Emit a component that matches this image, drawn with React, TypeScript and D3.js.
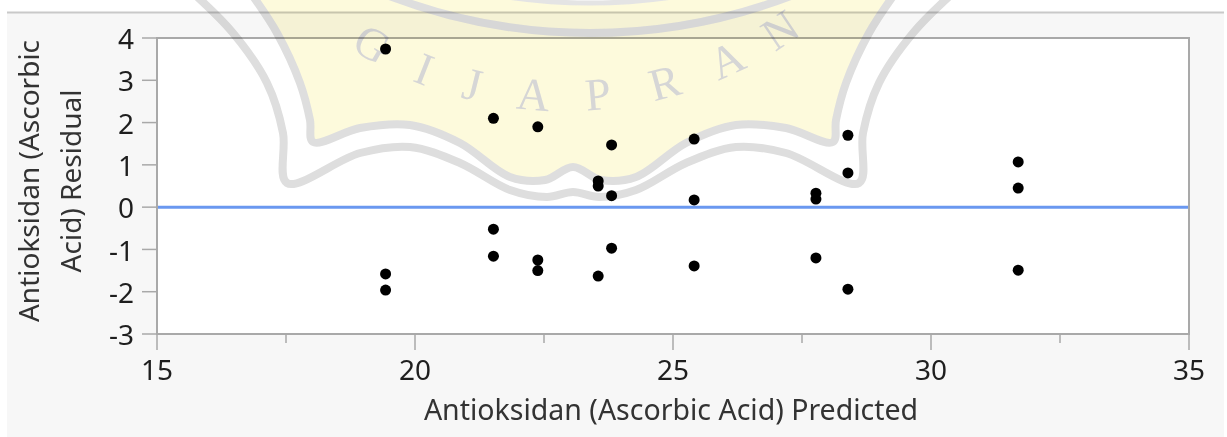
import { useEffect, useRef } from 'react';
import * as d3 from 'd3';

// residual by predicted plot (JMP style)
const predicted = [
  19.43, 19.43, 19.43,
  21.52, 21.52, 21.52,
  22.38, 22.38, 22.38,
  23.55, 23.55, 23.55,
  23.81, 23.81, 23.81,
  25.41, 25.41, 25.41,
  27.77, 27.77, 27.77,
  28.39, 28.39, 28.39,
  31.69, 31.69, 31.69,
];
const residual = [
  3.74, -1.58, -1.96,
  2.10, -0.52, -1.16,
  1.90, -1.25, -1.50,
  0.62, 0.50, -1.63,
  1.47, 0.27, -0.97,
  1.61, 0.17, -1.39,
  0.33, 0.19, -1.20,
  1.70, 0.81, -1.94,
  1.07, 0.45, -1.49,
];
const xTicks = [15, 20, 25, 30, 35];
const xMinorTicks = [17.5, 22.5, 27.5, 32.5];
const yTicks = [-3, -2, -1, 0, 1, 2, 3, 4];
const xTitle = 'Antioksidan (Ascorbic Acid) Predicted';
const yTitleLines = ['Antioksidan (Ascorbic', 'Acid) Residual'];

// watermark (background logo of the source document)
const wmLetters = ['G', 'I', 'J', 'A', 'P', 'R', 'A', 'N'];
const wmLetterAngles = [-30, -21.4, -13.9, -4.7, 4.9, 15, 24.8, 33.9];
const wmCx = 573;
const wmInner = [[250, -8], [277, 33], [300, 83], [310, 120], [313, 142], [360, 128], [410, 125], [460, 143], [510, 177], [545, 180], [573, 167]];
const wmOuter = [[192, -8], [233, 33], [267, 83], [283, 133], [287, 183], [360, 153], [410, 147], [460, 163], [510, 190], [547, 197], [573, 192]];

const W = 1227;
const H = 437;
const FONT = '"Noto Sans", "Open Sans", sans-serif';

const mirror = (pts) => {
  const right = pts.slice(0, -1).reverse().map(([x, y]) => [2 * wmCx - x, y]);
  return pts.concat(right);
};

const App = () => {
  const ref = useRef(null);

  useEffect(() => {
    const svg = d3.select(ref.current);
    svg.selectAll('*').remove();

    const plot = { left: 157, right: 1189, top: 38, bottom: 334 };

    const x = d3.scaleLinear().domain([15, 35]).range([plot.left, plot.right]);
    const y = d3.scaleLinear().domain([-3, 4]).range([plot.bottom, plot.top]);

    // panel background
    svg.append('rect').attr('width', W).attr('height', H).attr('fill', '#ffffff');
    svg.append('rect').attr('x', 7).attr('y', 12).attr('width', 1217).attr('height', H - 12).attr('fill', '#f7f7f7');
    svg.append('line').attr('x1', 7).attr('x2', 1224).attr('y1', 12.5).attr('y2', 12.5)
      .attr('stroke', '#c9c9c9').attr('stroke-width', 2);

    // plot area
    svg.append('rect')
      .attr('x', plot.left).attr('y', plot.top)
      .attr('width', plot.right - plot.left).attr('height', plot.bottom - plot.top)
      .attr('fill', '#ffffff').attr('stroke', '#a9a9a9').attr('stroke-width', 2);

    // y ticks
    const gy = svg.append('g');
    gy.selectAll('line').data(yTicks).join('line')
      .attr('x1', plot.left - 15).attr('x2', plot.left)
      .attr('y1', d => y(d)).attr('y2', d => y(d))
      .attr('stroke', '#a9a9a9').attr('stroke-width', 1.5);
    gy.selectAll('text').data(yTicks).join('text')
      .attr('x', plot.left - 23).attr('y', d => y(d) + 1)
      .attr('dy', '0.36em').attr('text-anchor', 'end')
      .style('font-family', FONT).style('font-size', '28px').attr('fill', '#1e1e1e')
      .text(d => d);

    // x ticks
    const gx = svg.append('g');
    gx.selectAll('line.major').data(xTicks).join('line').attr('class', 'major')
      .attr('x1', d => x(d)).attr('x2', d => x(d))
      .attr('y1', plot.bottom).attr('y2', plot.bottom + 16)
      .attr('stroke', '#a9a9a9').attr('stroke-width', 1.5);
    gx.selectAll('line.minor').data(xMinorTicks).join('line').attr('class', 'minor')
      .attr('x1', d => x(d)).attr('x2', d => x(d))
      .attr('y1', plot.bottom).attr('y2', plot.bottom + 9)
      .attr('stroke', '#a9a9a9').attr('stroke-width', 1.5);
    gx.selectAll('text').data(xTicks).join('text')
      .attr('x', d => x(d)).attr('y', 380)
      .attr('text-anchor', 'middle')
      .style('font-family', FONT).style('font-size', '28px').attr('fill', '#1e1e1e')
      .text(d => d);

    // titles
    svg.append('text')
      .attr('x', (plot.left + plot.right) / 2 - 2).attr('y', 420)
      .attr('text-anchor', 'middle')
      .style('font-family', FONT).style('font-size', '28.5px').attr('fill', '#333333')
      .text(xTitle);

    svg.append('g')
      .attr('transform', `translate(0, 181) rotate(-90)`)
      .selectAll('text').data(yTitleLines).join('text')
      .attr('x', 0).attr('y', (d, i) => 39 + i * 42)
      .attr('text-anchor', 'middle')
      .style('font-family', FONT).style('font-size', '28px').attr('fill', '#333333')
      .text(d => d);

    // zero line
    svg.append('line')
      .attr('x1', plot.left + 1).attr('x2', plot.right - 1)
      .attr('y1', y(0)).attr('y2', y(0))
      .attr('stroke', '#6a98f0').attr('stroke-width', 3);

    // points
    svg.append('g').selectAll('circle').data(predicted).join('circle')
      .attr('cx', d => x(d))
      .attr('cy', (d, i) => y(residual[i]))
      .attr('r', 5.5)
      .attr('fill', '#000000');

    // watermark overlay
    const wm = svg.append('g').style('mix-blend-mode', 'multiply').attr('pointer-events', 'none');
    const smooth = d3.line().curve(d3.curveCatmullRom.alpha(0.5));
    wm.append('path').attr('d', smooth(mirror(wmOuter)))
      .attr('fill', 'none').attr('stroke', '#dedede').attr('stroke-width', 8);
    wm.append('path').attr('d', smooth(mirror(wmInner)) + 'Z')
      .attr('fill', '#fdfadc').attr('stroke', '#dedede').attr('stroke-width', 8);
    wm.append('circle').attr('cx', 590).attr('cy', -530).attr('r', 563)
      .attr('fill', 'none').attr('stroke', '#dedede').attr('stroke-width', 8);
    wm.append('circle').attr('cx', 590).attr('cy', -560).attr('r', 563)
      .attr('fill', '#ffffff').attr('stroke', '#e4e4e4').attr('stroke-width', 5);

    const arcC = { x: 565, y: -290, r: 385 };
    wm.append('g').selectAll('text').data(wmLetters).join('text')
      .attr('transform', (d, i) => {
        const a = (wmLetterAngles[i] * Math.PI) / 180;
        const px = arcC.x + arcC.r * Math.sin(a);
        const py = arcC.y + arcC.r * Math.cos(a);
        return `translate(${px},${py}) rotate(${-wmLetterAngles[i]})`;
      })
      .attr('text-anchor', 'middle').attr('dy', '0.35em')
      .style('font-family', '"Liberation Serif", "DejaVu Serif", serif')
      .style('font-size', '46px').attr('fill', '#d6d6d6')
      .text(d => d);
  }, []);

  return (
    <svg ref={ref} width={W} height={H} viewBox={`0 0 ${W} ${H}`}
      style={{ position: 'fixed', left: 0, top: 0, display: 'block' }} />
  );
};

export default App;
